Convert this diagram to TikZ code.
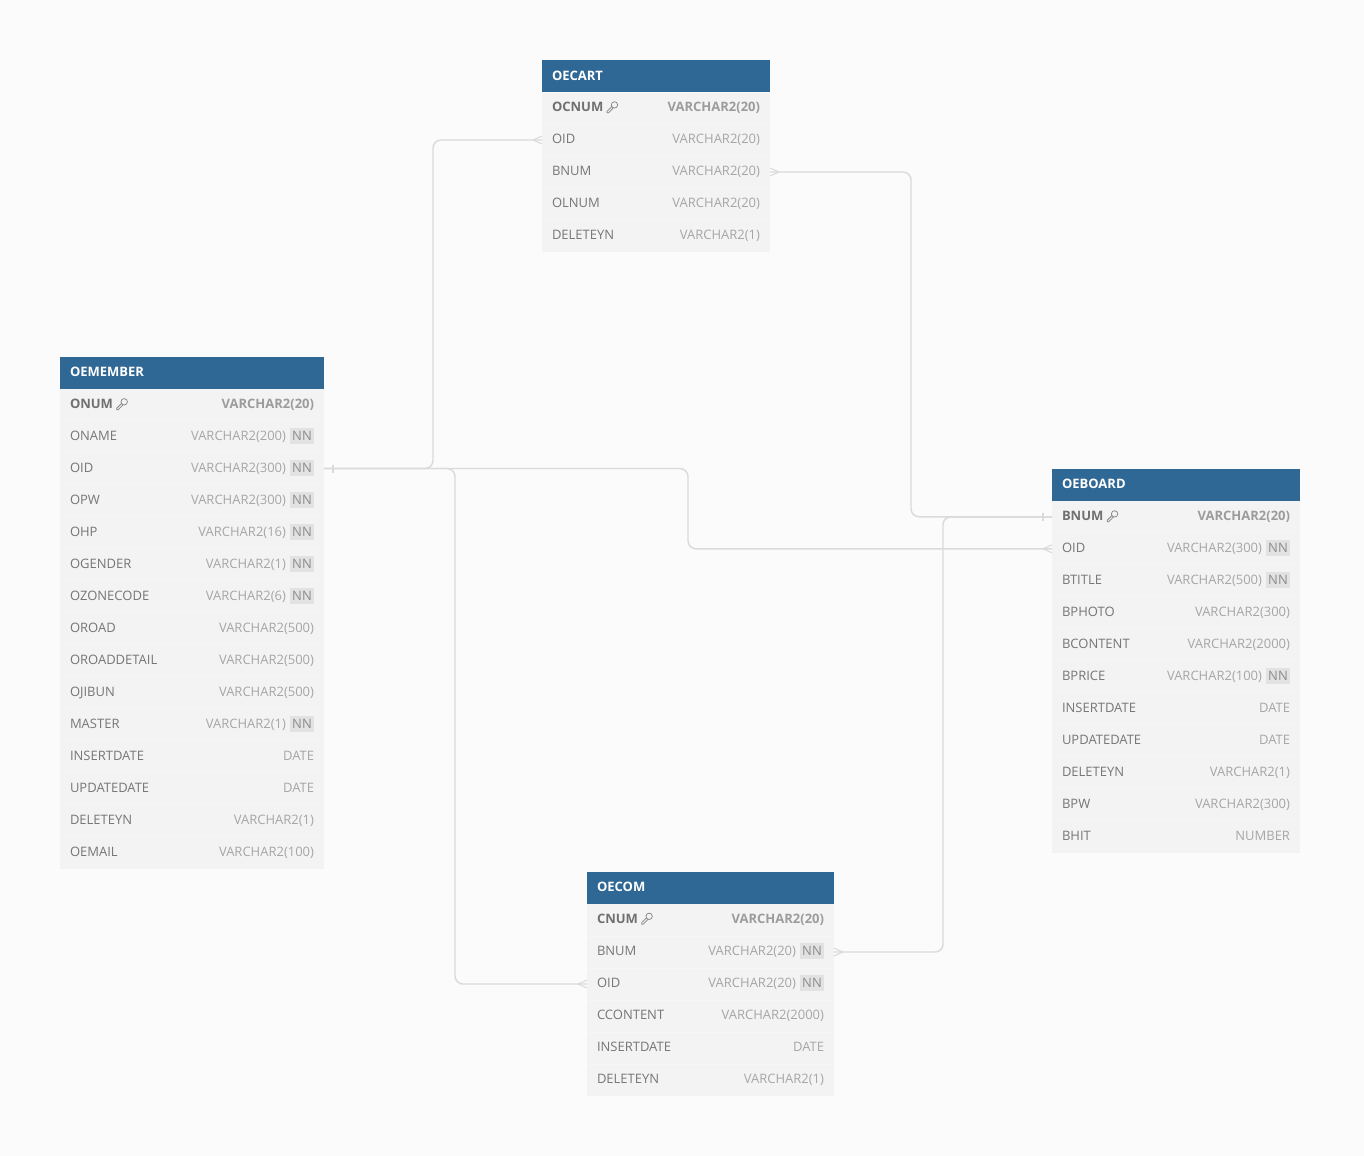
\documentclass[tikz,border=0pt]{standalone}
\usepackage{fontspec}
\setmainfont{Open Sans}
\usetikzlibrary{calc}
\definecolor{pagebg}{HTML}{FBFBFB}
\definecolor{headbg}{HTML}{2F6795}
\definecolor{rowbg}{HTML}{F3F3F3}
\definecolor{rowline}{HTML}{F6F6F6}
\definecolor{labelc}{HTML}{767676}
\definecolor{typec}{HTML}{A6A6A6}
\definecolor{pkc}{HTML}{707070}
\definecolor{pktype}{HTML}{9C9C9C}
\definecolor{nnbg}{HTML}{E2E2E2}
\definecolor{nnc}{HTML}{8C8C8C}
\definecolor{linkc}{HTML}{DADADA}
\definecolor{keyc}{HTML}{858585}
\newcommand{\pxu}{0.75pt}
\newcommand{\tdy}{4}
\newcommand{\ttdy}{19}
\tikzset{
  x=0.75pt,y=-0.75pt,
  txt/.style={inner sep=0pt,outer sep=0pt,font=\fontsize{9.75pt}{11pt}\selectfont},
  headbox/.style={fill=headbg,draw=none,inner sep=0pt,outer sep=0pt,minimum height=24pt,anchor=north west},
  headtxt/.style={txt,text=white,anchor=base west,font=\fontsize{9.75pt}{11pt}\selectfont\bfseries},
  rowbox/.style={fill=rowbg,draw=none,inner sep=0pt,outer sep=0pt,minimum height=24pt},
  lab/.style={txt,text=labelc,anchor=base west},
  typ/.style={txt,text=typec,anchor=base east},
  pklab/.style={txt,text=pkc,anchor=base west,font=\fontsize{9.75pt}{11pt}\selectfont\bfseries},
  pktyp/.style={txt,text=pktype,anchor=base east,font=\fontsize{9.75pt}{11pt}\selectfont\bfseries},
  nnbox/.style={fill=nnbg,text=nnc,inner sep=0pt,outer sep=0pt,minimum width=18pt,minimum height=12pt,font=\fontsize{9.75pt}{11pt}\selectfont},
  link/.style={draw=linkc,line width=1.1pt,rounded corners=6pt},
  mark line/.style={draw=linkc,line width=0.8pt},
  keyline/.style={draw=keyc,line width=0.55pt},
}
% \TableHead{id}{x}{ytop}{width}{title}
\newcommand{\TableHead}[5]{%
  \node[headbox,minimum width=#4*\pxu] (#1-head) at (#2,#3) {};
  \node[headtxt] (#1-title) at (#2+10,#3+\ttdy) {#5};
}
% \PkRow{id}{x}{yc}{width}{name}{type}
\newcommand{\PkRow}[6]{%
  \node[rowbox,minimum width=#4*\pxu] (#1-#5) at (#2+#4/2,#3) {};
  \node[pklab] (#1-#5-l) at (#2+10,#3+\tdy) {#5};
  \node[pktyp] (#1-#5-t) at (#2+#4-10,#3+\tdy) {#6};
  \draw[keyline] ($(#1-#5-l.base east)+(11.2,-6.7)$) circle[radius=3.2];
  \draw[keyline] ($(#1-#5-l.base east)+(8.7,-5.2)$) -- ++(-4.9,4.9) -- ++(0,1.5) -- ++(1.5,0) -- ++(4.7,-4.9);
}
% \Rows{id}{x}{first yc}{width}{list of index/name/type/flag}
\newcommand{\Rows}[5]{%
  \foreach \i/\n/\t/\f in {#5} {
    \pgfmathsetmacro{\yc}{#3+32*\i}
    \node[rowbox,minimum width=#4*\pxu] (#1-\n) at (#2+#4/2,\yc) {};
    \draw[draw=rowline,line width=0.75pt] (#2,\yc-16) -- (#2+#4,\yc-16);
    \node[lab] (#1-\n-l) at (#2+10,\yc+\tdy) {\n};
    \ifnum\f=1
      \node[nnbox] (#1-\n-nn) at (#2+#4-22,\yc+\tdy-4.5) {NN};
      \node[typ] (#1-\n-t) at (#2+#4-38,\yc+\tdy) {\t};
    \else
      \node[typ] (#1-\n-t) at (#2+#4-10,\yc+\tdy) {\t};
    \fi
  }%
}
% crow's foot opening towards the table; #1 anchor, #2 sign pointing away from table
\newcommand{\Crow}[2]{%
  \draw[mark line] ($(#1)+(#2*9,0)$) -- ($(#1)+(0,-4)$);
  \draw[mark line] ($(#1)+(#2*9,0)$) -- ($(#1)+(0,4)$);
}
\newcommand{\Bar}[2]{%
  \draw[mark line] ($(#1)+(#2*9,-4)$) -- ($(#1)+(#2*9,4)$);
}
\begin{document}
\begin{tikzpicture}
\useasboundingbox (0,0) rectangle (1364,1156);
\fill[pagebg] (0,0) rectangle (1364,1156);

% OECART
\renewcommand{\tdy}{3}
\renewcommand{\ttdy}{20}
\PkRow{cart}{542}{108.6}{228}{OCNUM}{VARCHAR2(20)}
\Rows{cart}{542}{140}{228}{0/OID/VARCHAR2(20)/0,1/BNUM/VARCHAR2(20)/0,2/OLNUM/VARCHAR2(20)/0,3/DELETEYN/VARCHAR2(1)/0}
\TableHead{cart}{542}{60}{228}{OECART}
\renewcommand{\ttdy}{19}

% OEMEMBER
\renewcommand{\tdy}{4}
\PkRow{member}{60}{404.5}{264}{ONUM}{VARCHAR2(20)}
\Rows{member}{60}{436.5}{264}{0/ONAME/VARCHAR2(200)/1,1/OID/VARCHAR2(300)/1,2/OPW/VARCHAR2(300)/1,3/OHP/VARCHAR2(16)/1,4/OGENDER/VARCHAR2(1)/1,5/OZONECODE/VARCHAR2(6)/1,6/OROAD/VARCHAR2(500)/0,7/OROADDETAIL/VARCHAR2(500)/0,8/OJIBUN/VARCHAR2(500)/0,9/MASTER/VARCHAR2(1)/1,10/INSERTDATE/DATE/0,11/UPDATEDATE/DATE/0,12/DELETEYN/VARCHAR2(1)/0,13/OEMAIL/VARCHAR2(100)/0}
\TableHead{member}{60}{357}{264}{OEMEMBER}

% OEBOARD
\renewcommand{\tdy}{3.8}
\PkRow{board}{1052}{516.8}{248}{BNUM}{VARCHAR2(20)}
\Rows{board}{1052}{548.8}{248}{0/OID/VARCHAR2(300)/1,1/BTITLE/VARCHAR2(500)/1,2/BPHOTO/VARCHAR2(300)/0,3/BCONTENT/VARCHAR2(2000)/0,4/BPRICE/VARCHAR2(100)/1,5/INSERTDATE/DATE/0,6/UPDATEDATE/DATE/0,7/DELETEYN/VARCHAR2(1)/0,8/BPW/VARCHAR2(300)/0,9/BHIT/NUMBER/0}
\TableHead{board}{1052}{469}{248}{OEBOARD}

% OECOM
\renewcommand{\tdy}{3}
\PkRow{com}{587}{920}{247}{CNUM}{VARCHAR2(20)}
\Rows{com}{587}{952}{247}{0/BNUM/VARCHAR2(20)/1,1/OID/VARCHAR2(20)/1,2/CCONTENT/VARCHAR2(2000)/0,3/INSERTDATE/DATE/0,4/DELETEYN/VARCHAR2(1)/0}
\TableHead{com}{587}{872}{247}{OECOM}

% connectors
\draw[link] (member-OID.east) -| (433,300) |- (cart-OID.west);
\draw[link] (member-OID.east) -- (688,468.5) -- (688,548.8) -- (board-OID.west);
\draw[link] (member-OID.east) -- (455,468.5) -- (455,984) -- (com-OID.west);
\draw[link] (cart-BNUM.east) -- (911,172) -- (911,516.8) -- (board-BNUM.west);
\draw[link] (com-BNUM.east) -- (943,952) -- (943,516.8) -- (board-BNUM.west);

% end marks
\Bar{member-OID.east}{1}
\Bar{board-BNUM.west}{-1}
\Crow{cart-OID.west}{-1}
\Crow{board-OID.west}{-1}
\Crow{com-OID.west}{-1}
\Crow{cart-BNUM.east}{1}
\Crow{com-BNUM.east}{1}
\end{tikzpicture}
\end{document}
